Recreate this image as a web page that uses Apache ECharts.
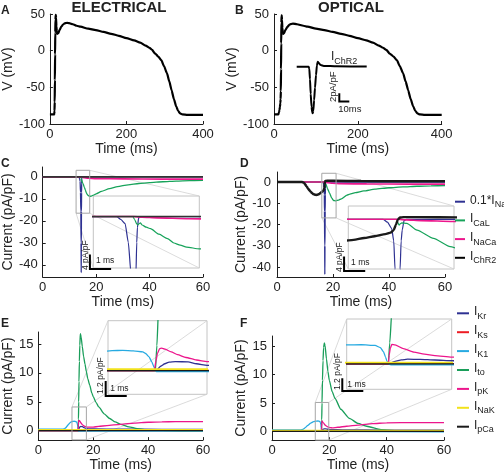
<!DOCTYPE html>
<html><head><meta charset="utf-8">
<script src="https://cdn.jsdelivr.net/npm/echarts@6/dist/echarts.min.js"></script>
<style>html,body{margin:0;padding:0;background:#fff}#c{width:504px;height:473px}</style>
</head><body><div id="c"></div>
<script>
// ---------- tick labels ----------
const xTicksAP = [0, 200, 400];
const yTicksAP = [-100, -50, 0, 50];
const xTicksI = [0, 20, 40, 60];
const yTicksCD = [-40, -30, -20, -10, 0];
const yTicksEF = [0, 5, 10, 15];

// ---------- action potentials (ms, mV) ----------
const apElectrical = [[0,-87],[11,-87],[11.5,-86],[12,-82],[12.5,-70],[13,-40],[13.5,-5],[14,25],[14.5,42],[15,48],[15.5,49],[16,45],[17,33],[18,26],[19,23],[20,22.5],[22,24],[25,28],[30,33],[35,36],[40,37.5],[45,38],[50,37.5],[60,36],[70,34],[80,32.7],[100,30],[120,28],[140,25.5],[160,23],[180,20.3],[200,17],[220,14],[236,11],[250,7],[260,4],[267,1],[275,-4],[283,-8],[291,-13],[298,-21],[306,-31],[312,-42],[318,-54],[324,-66],[330,-76],[335,-82],[340,-85.5],[346,-87],[360,-87.5],[400,-87.5]];
const apOptical = [[0,-87],[10,-87],[11,-86],[12,-84],[13,-81],[14,-77],[15,-72],[15.8,-66],[16.3,-55],[16.8,-25],[17.2,10],[17.6,38],[18,47],[18.5,48],[19,42],[20,31],[21,25],[22,23],[24,24],[27,28],[32,32.5],[37,35.5],[45,37],[55,36],[70,34],[80,32.7],[100,30],[120,28],[140,25.5],[160,23],[180,20.3],[200,17],[220,14],[236,11],[250,7],[260,4],[268,1],[276,-4],[285,-8],[293,-13],[300,-21],[308,-31],[314,-42],[320,-54],[326,-66],[332,-76],[337,-82],[342,-85.5],[348,-87],[360,-87.5],[400,-87.5]];
// ChR2 current trace shown in panel B (ms, pA/pF)
const chr2Trace = [[0,0],[12,0],[12.6,-0.5],[13.3,-3],[14,-6.5],[14.8,-9.5],[15.5,-10.8],[16,-11.1],[16.6,-10.5],[17.4,-8],[18.3,-5],[19.3,-2],[20.2,0.3],[21,1.2],[22,0.9],[24,0.4],[27,0.2],[40,0.1],[70,0.05]];

// ---------- inward currents, electrical (C) ----------
const naC = [[0,0],[13.6,0],[13.8,-0.8],[14.0,-1.9],[14.15,-7],[14.28,-15.6],[14.36,-30],[14.42,-43.5],[14.47,-30],[14.51,-15.7],[14.55,-7],[14.58,-3],[14.64,-0.3],[14.8,0],[60,0]];
const calC = [[0,0],[14.36,0],[14.45,-0.8],[14.55,-2.0],[14.6,-2.3],[14.65,-2.0],[14.72,-1.7],[14.8,-2.3],[15.0,-2.9],[15.2,-3.3],[15.6,-4.8],[16.0,-6.0],[16.3,-7.2],[16.6,-7.8],[16.9,-8.3],[17.5,-8.8],[18.0,-8.8],[19,-8.3],[20,-7.7],[22,-6.6],[25,-5.3],[28,-4.4],[32,-3.6],[36,-3.0],[40,-2.6],[45,-2.2],[50,-1.9],[55,-1.7],[60,-1.6]];
const nacaC = [[0,0],[14.4,0],[14.8,-0.15],[15.5,-0.35],[17,-0.6],[20,-0.8],[30,-0.9],[45,-1.0],[60,-1.0]];
const chr2C = [[0,0],[60,0]];
// ---------- inward currents, optical (D) ----------
const naD = [[0,0],[16.4,0],[16.6,-0.8],[16.8,-2.5],[16.9,-6],[16.96,-13.8],[17.03,-30],[17.08,-43.5],[17.13,-30],[17.2,-13.8],[17.25,-6],[17.3,-3],[17.39,-0.3],[17.5,0],[60,0]];
const calD = [[0,0],[17.04,0],[17.1,-1.0],[17.15,-1.6],[17.22,-1.2],[17.28,-1.0],[17.52,-1.1],[18.0,-3.0],[18.78,-5.3],[19.57,-7.6],[20.2,-8.7],[21,-8.9],[22,-8.5],[23,-7.9],[25,-6.2],[26,-5.7],[28,-5.0],[31,-4.2],[35,-3.4],[40,-2.7],[45,-2.3],[50,-2.0],[55,-1.8],[60,-1.7]];
const nacaD = [[0,0],[17.1,0],[17.5,-0.15],[18.2,-0.35],[19.7,-0.6],[22.7,-0.8],[32,-0.9],[47,-1.0],[60,-1.0]];
const chr2D = [[0,0],[9,0],[9.5,-0.3],[10,-1.0],[10.5,-2.0],[11,-2.9],[11.5,-3.8],[12,-4.6],[12.5,-5.2],[13,-5.7],[13.5,-6.0],[14,-6.1],[14.5,-6.0],[15,-5.7],[15.5,-5.2],[16,-4.7],[16.5,-4.1],[16.75,-3.7],[16.9,-3.0],[17.0,-1.5],[17.1,0],[17.2,0.5],[17.35,0.6],[18,0.6],[20,0.55],[30,0.45],[45,0.35],[60,0.3]];

// ---------- outward currents, electrical (E) ----------
const krE = [[0,0],[14.55,0],[14.65,0.12],[14.8,0.35],[15.0,0.55],[15.2,0.68],[15.5,0.72],[16.1,0.7],[16.5,0.55],[17.0,0.42],[18,0.32],[20,0.28],[30,0.25],[45,0.22],[60,0.2]];
const ksE = [[0,0],[15,0],[20,0.04],[60,0.08]];
const k1E = [[0,0.25],[9,0.25],[9.5,0.32],[10,0.5],[10.5,0.8],[11,1.1],[11.5,1.35],[12,1.52],[12.5,1.6],[13,1.62],[13.5,1.58],[13.95,1.5],[14.1,1.35],[14.25,1.1],[14.38,0.7],[14.48,0.3],[14.53,0.05],[14.6,-0.08],[60,-0.08]];
const toE = [[0,0],[14.55,0],[14.62,2],[14.7,5],[14.8,8.5],[14.95,12],[15.1,14.8],[15.3,16.8],[15.6,16.2],[16,14.6],[16.5,12.8],[17,11.5],[17.5,10.2],[18,9.0],[18.7,7.9],[19.5,6.5],[20,5.9],[21,4.9],[22,4.1],[24,2.9],[26,2.1],[28,1.5],[30,1.1],[33,0.65],[36,0.35],[40,0.12],[45,0.03],[60,0]];
const pkE = [[0,0],[14.5,0],[14.58,0.8],[14.65,1.4],[14.75,1.75],[14.85,1.8],[15.0,1.72],[15.3,1.5],[15.6,1.28],[16,1.05],[16.5,0.85],[17,0.72],[18,0.62],[19,0.6],[20,0.62],[22,0.72],[25,0.88],[30,1.1],[35,1.3],[40,1.45],[45,1.52],[50,1.55],[60,1.55]];
const nakE = [[0,0.1],[60,0.1]];
const pcaE = [[0,0.0],[60,0.0]];
// ---------- outward currents, optical (F) ----------
const krF = [[0,0],[17.28,0],[17.4,0.1],[17.6,0.25],[17.9,0.38],[18.2,0.45],[18.8,0.43],[19.5,0.37],[20.3,0.3],[25,0.25],[40,0.22],[60,0.2]];
const ksF = [[0,0],[18,0],[23,0.04],[60,0.08]];
const k1F = [[0,0.25],[10,0.25],[10.8,0.35],[11.5,0.6],[12.5,1.05],[13.5,1.45],[14.5,1.7],[15.3,1.8],[16,1.82],[16.65,1.75],[16.9,1.55],[17.05,1.15],[17.15,0.65],[17.22,0.25],[17.27,0],[17.4,-0.08],[60,-0.08]];
const toF = [[0,0],[17.28,0],[17.35,2],[17.45,5],[17.6,9],[17.8,12.5],[18.0,14.8],[18.25,15.6],[18.5,15.2],[19,12.8],[19.5,10.6],[20,9.0],[21,7.0],[22,5.8],[24,3.9],[27,2.3],[30,1.4],[33,0.9],[38,0.3],[45,0.06],[60,0.01]];
const pkF = [[0,0],[17.28,0],[17.32,0.8],[17.38,1.5],[17.45,1.85],[17.6,1.8],[18,1.45],[18.5,1.12],[19,0.92],[19.5,0.78],[20.3,0.65],[21,0.62],[23,0.72],[26,0.9],[30,1.1],[35,1.35],[40,1.5],[50,1.55],[60,1.55]];
const nakF = [[0,0.1],[60,0.1]];
const pcaF = [[0,0.0],[60,0.0]];

// ---------- zoom regions (data units of the main panels) and inset ranges ----------
const zoomC = {x:[12.5,17.6], y:[-16.5,3.0]};
const zoomD = {x:[16.0,21.1], y:[-16.9,4.1]};
const zoomE = {x:[12.25,17.5], y:[-1.6,4.1]};
const zoomF = {x:[15.1,19.8], y:[-1.55,5.1]};
const insetC = {x:[12.5,17.5], y:[-14,5.6]};
const insetD = {x:[14.75,19.75], y:[-13.8,3.7]};
const insetE = {x:[12.3,17.0], y:[-1.9,4.0]};
const insetF = {x:[15.3,20.3], y:[-2.4,4.25]};
const insetB = {x:[0,70], y:[-11.5,2.8]};
// scale bars: [x, y] corner in inset data units, [dx, dy] lengths
const barB = {at:[42.6,-8.3], len:[10,2]};
const barC = {at:[12.34,-14.3], len:[1,4]};
const barD = {at:[14.55,-14.36], len:[1,4]};
const barE = {at:[12.19,-2.04], len:[1,1.2]};
const barF = {at:[15.09,-2.56], len:[1,1.2]};

const FONT = '"Liberation Sans", Arial, Helvetica, sans-serif';
const TXT = '#222';
const AXC = '#1e1e1e';
const COL = {Na:'#2e3192', CaL:'#17a35a', NaCa:'#ec168c', ChR2:'#1a1a1a',
  Kr:'#2e3192', Ks:'#ed1c24', K1:'#27aae1', to:'#1a9e5a', pK:'#ec168c', NaK:'#f2e21b', pCa:'#1a1a1a'};

const grids = [
  {left:33.3, top:14, width:169.7, height:110},   // 0 A
  {left:274, top:14, width:167.7, height:110},    // 1 B
  {left:296.7, top:55, width:70, height:60},      // 2 B inset
  {left:35, top:167, width:168, height:110},      // 3 C
  {left:93.3, top:196, width:106, height:72, show:true, borderColor:'#c4c4c4', borderWidth:1}, // 4 C inset
  {left:277, top:172, width:168, height:105},     // 5 D
  {left:348.3, top:206, width:105.7, height:63, show:true, borderColor:'#c4c4c4', borderWidth:1}, // 6 D inset
  {left:35, top:332, width:168, height:111},      // 7 E
  {left:108, top:320.7, width:99, height:73.6, show:true, borderColor:'#c4c4c4', borderWidth:1}, // 8 E inset
  {left:272, top:336, width:172, height:107},     // 9 F
  {left:346.7, top:319, width:105, height:70.3, show:true, borderColor:'#c4c4c4', borderWidth:1} // 10 F inset
];

function xMain(g, min, max, ticks, gap) {
  return {gridIndex:g, type:'value', min:min, max:max, name:'Time (ms)', nameLocation:'middle', nameGap:gap,
    nameTextStyle:{fontFamily:FONT, fontSize:14, color:TXT},
    axisLine:{show:true, onZero:false, lineStyle:{color:AXC, width:1}},
    axisTick:{show:true, inside:true, length:3, customValues:ticks, lineStyle:{color:AXC}},
    axisLabel:{show:true, customValues:ticks, fontFamily:FONT, fontSize:13, color:TXT, margin:4},
    splitLine:{show:false}};
}
function yMain(g, min, max, ticks, name, gap, margin) {
  return {gridIndex:g, type:'value', min:min, max:max, name:name, nameLocation:'middle', nameGap:gap,
    nameTextStyle:{fontFamily:FONT, fontSize:14, color:TXT},
    axisLine:{show:true, onZero:false, lineStyle:{color:AXC, width:1}},
    axisTick:{show:true, inside:true, length:3, customValues:ticks, lineStyle:{color:AXC}},
    axisLabel:{show:true, customValues:ticks, fontFamily:FONT, fontSize:13, color:TXT, margin:margin},
    splitLine:{show:false}};
}
function hid(g, r) { return {gridIndex:g, type:'value', min:r[0], max:r[1], show:false}; }

const xAxes = [
  xMain(0, 0, 400, xTicksAP, 15), xMain(1, 0, 400, xTicksAP, 15), hid(2, insetB.x),
  xMain(3, 0, 60, xTicksI, 18), hid(4, insetC.x),
  xMain(5, 0, 60, xTicksI, 18), hid(6, insetD.x),
  xMain(7, 0, 60, xTicksI, 16), hid(8, insetE.x),
  xMain(9, 0, 60, xTicksI, 16), hid(10, insetF.x)
];
const yAxes = [
  yMain(0, -100, 50, yTicksAP, 'V (mV)', 16, 5), yMain(1, -100, 50, yTicksAP, 'V (mV)', 22, 5), hid(2, insetB.y),
  yMain(3, -45.5, 4.5, yTicksCD, 'Current (pA/pF)', 19.5, 5), hid(4, insetC.y),
  yMain(5, -44.7, 4.7, yTicksCD, 'Current (pA/pF)', 25, 6), hid(6, insetD.y),
  yMain(7, -1.64, 17.08, yTicksEF, 'Current (pA/pF)', 19, 5), hid(8, insetE.y),
  yMain(9, -1.55, 16.84, yTicksEF, 'Current (pA/pF)', 20, 5), hid(10, insetF.y)
];

function ln(name, data, g, color, w) {
  return {name:name, type:'line', xAxisIndex:g, yAxisIndex:g, data:data, symbol:'none', showSymbol:false,
    color:color, itemStyle:{color:color}, lineStyle:{color:color, width:w},
    smooth:0.2, smoothMonotone:'x', clip:true, silent:true, animation:false, emphasis:{disabled:true}};
}
const series = [
  ln('AP', apElectrical, 0, '#000', 2.2),
  ln('AP', apOptical, 1, '#000', 2.2),
  ln('ChR2', chr2Trace, 2, '#000', 2)
];
[[3,1.3],[4,1.2]].forEach(function(p){
  series.push(ln('Na', naC, p[0], COL.Na, p[1]), ln('CaL', calC, p[0], COL.CaL, p[1]),
              ln('NaCa', nacaC, p[0], COL.NaCa, p[1] + 0.4), ln('ChR2', chr2C, p[0], '#333', p[1] + 0.3));
});
[[5,1.3],[6,1.2]].forEach(function(p){
  series.push(ln('Na', naD, p[0], COL.Na, p[1]), ln('CaL', calD, p[0], COL.CaL, p[1]),
              ln('NaCa', nacaD, p[0], COL.NaCa, p[1] + 0.4), ln('ChR2', chr2D, p[0], COL.ChR2, p[1] + 1.2));
});
[[7,1.3],[8,1.3]].forEach(function(p){
  series.push(ln('Kr', krE, p[0], COL.Kr, p[1]), ln('Ks', ksE, p[0], COL.Ks, p[1]), ln('K1', k1E, p[0], COL.K1, p[1]),
    ln('to', toE, p[0], COL.to, p[1]), ln('pK', pkE, p[0], COL.pK, p[1]), ln('NaK', nakE, p[0], COL.NaK, p[1] + 0.7),
    ln('pCa', pcaE, p[0], COL.pCa, p[1]));
});
[[9,1.3],[10,1.3]].forEach(function(p){
  series.push(ln('Kr', krF, p[0], COL.Kr, p[1]), ln('Ks', ksF, p[0], COL.Ks, p[1]), ln('K1', k1F, p[0], COL.K1, p[1]),
    ln('to', toF, p[0], COL.to, p[1]), ln('pK', pkF, p[0], COL.pK, p[1]), ln('NaK', nakF, p[0], COL.NaK, p[1] + 0.7),
    ln('pCa', pcaF, p[0], COL.pCa, p[1]));
});

const legendLabels = {Na:'{m|0.1*I}{s|Na}', CaL:'{m|I}{s|CaL}', NaCa:'{m|I}{s|NaCa}', ChR2:'{m|I}{s|ChR2}',
  Kr:'{m|I}{s|Kr}', Ks:'{m|I}{s|Ks}', K1:'{m|I}{s|K1}', to:'{m|I}{s|to}', pK:'{m|I}{s|pK}', NaK:'{m|I}{s|NaK}', pCa:'{m|I}{s|pCa}'};
const richLeg = {m:{fontFamily:FONT, fontSize:12, color:TXT, lineHeight:15, verticalAlign:'top'},
                 s:{fontFamily:FONT, fontSize:9, color:TXT, verticalAlign:'bottom'}};
function leg(names, left, top, w, gap) {
  return {data:names, orient:'vertical', left:left, top:top, itemWidth:w, itemHeight:2, itemGap:gap, icon:'rect',
    selectedMode:false, padding:0, formatter:function(n){return legendLabels[n];}, textStyle:{rich:richLeg}};
}

const chart = echarts.init(document.getElementById('c'), null, {renderer:'canvas'});
chart.setOption({
  animation:false, backgroundColor:'#fff',
  grid:grids, xAxis:xAxes, yAxis:yAxes, series:series,
  legend:[leg(['Na','CaL','NaCa','ChR2'], 455, 194.2, 10, 3.7), leg(['Kr','Ks','K1','to','pK','NaK','pCa'], 457, 305.8, 12, 3.9)]
});

function px(g, x, y) { return chart.convertToPixel({gridIndex:g}, [x, y]); }
const G = [];
function txt(x, y, s, size, opt) {
  opt = opt || {};
  G.push({type:'text', x:x, y:y, rotation:opt.rot || 0, z:100,
    style:{text:s, fontFamily:FONT, fontSize:size, fontWeight:opt.bold ? 'bold' : 'normal', fill:opt.fill || TXT,
      align:opt.align || 'left', verticalAlign:opt.va || 'middle', rich:opt.rich}});
}
function seg(a, b, color, w, z) {
  G.push({type:'line', z:z, shape:{x1:a[0], y1:a[1], x2:b[0], y2:b[1]}, style:{stroke:color, lineWidth:w}});
}
function zoomBox(main, inset, zr, ir, corners) {
  const tl = px(main, zr.x[0], zr.y[1]), br = px(main, zr.x[1], zr.y[0]);
  G.push({type:'rect', z:5, shape:{x:tl[0], y:tl[1], width:br[0]-tl[0], height:br[1]-tl[1]},
    style:{fill:'none', stroke:'#a6a6a6', lineWidth:1}});
  const zc = {TL:tl, TR:[br[0], tl[1]], BL:[tl[0], br[1]], BR:br};
  const itl = px(inset, ir.x[0], ir.y[1]), ibr = px(inset, ir.x[1], ir.y[0]);
  const ic = {TL:itl, TR:[ibr[0], itl[1]], BL:[itl[0], ibr[1]], BR:ibr};
  corners.forEach(function(c){ seg(zc[c], ic[c], '#d2d2d2', 0.8, 1); });
}
zoomBox(3, 4, zoomC, insetC, ['TR','BR','BL']);
zoomBox(5, 6, zoomD, insetD, ['TR','BR','BL']);
zoomBox(7, 8, zoomE, insetE, ['TL','TR','BR']);
zoomBox(9, 10, zoomF, insetF, ['TL','TR','BR']);

function scaleBar(g, b) {
  const p0 = px(g, b.at[0], b.at[1]);
  const px1 = px(g, b.at[0] + b.len[0], b.at[1]);
  const py1 = px(g, b.at[0], b.at[1] + b.len[1]);
  G.push({type:'polyline', z:100, shape:{points:[[p0[0], py1[1]], [p0[0], p0[1]], [px1[0], p0[1]]]},
    style:{stroke:'#000', lineWidth:2, fill:'none'}});
  return p0;
}
let p;
p = scaleBar(2, barB);
txt(p[0] - 6, p[1] + 0.5, '2pA/pF', 9.5, {rot:Math.PI/2});
txt(p[0] - 1, p[1] + 7.5, '10ms', 9.5);
p = scaleBar(4, barC);
txt(p[0] - 4.5, p[1] + 1, '4 pA/pF', 8.5, {rot:Math.PI/2});
txt(p[0] + 6, p[1] - 8, '1 ms', 8.5);
p = scaleBar(6, barD);
txt(p[0] - 4.7, p[1] + 1, '4 pA/pF', 8.5, {rot:Math.PI/2});
txt(p[0] + 7, p[1] - 8, '1 ms', 8.5);
p = scaleBar(8, barE);
txt(p[0] - 5.5, p[1] - 2, '1.2 pA/pF', 8.5, {rot:Math.PI/2});
txt(p[0] + 4.5, p[1] - 7, '1 ms', 8.5);
p = scaleBar(10, barF);
txt(p[0] - 5, p[1] - 1, '1.2 pA/pF', 8.5, {rot:Math.PI/2});
txt(p[0] + 5, p[1] - 6, '1 ms', 8.5);

// I_ChR2 label in panel B
txt(331, 58.5, '{m|I}{s|ChR2}', 12, {rich:{m:{fontFamily:FONT, fontSize:12, color:TXT, lineHeight:15, verticalAlign:'top'},
  s:{fontFamily:FONT, fontSize:9, color:TXT, verticalAlign:'bottom'}}});

// titles and panel letters
txt(119, 7.5, 'ELECTRICAL', 15, {bold:true, align:'center'});
txt(351, 7.5, 'OPTICAL', 15, {bold:true, align:'center'});
txt(1, 11, 'A', 12, {bold:true});
txt(235, 11, 'B', 12, {bold:true});
txt(1, 164, 'C', 12, {bold:true});
txt(240, 164, 'D', 12, {bold:true});
txt(1, 324, 'E', 12, {bold:true});
txt(240, 324, 'F', 12, {bold:true});

chart.setOption({graphic:G});
</script></body></html>
